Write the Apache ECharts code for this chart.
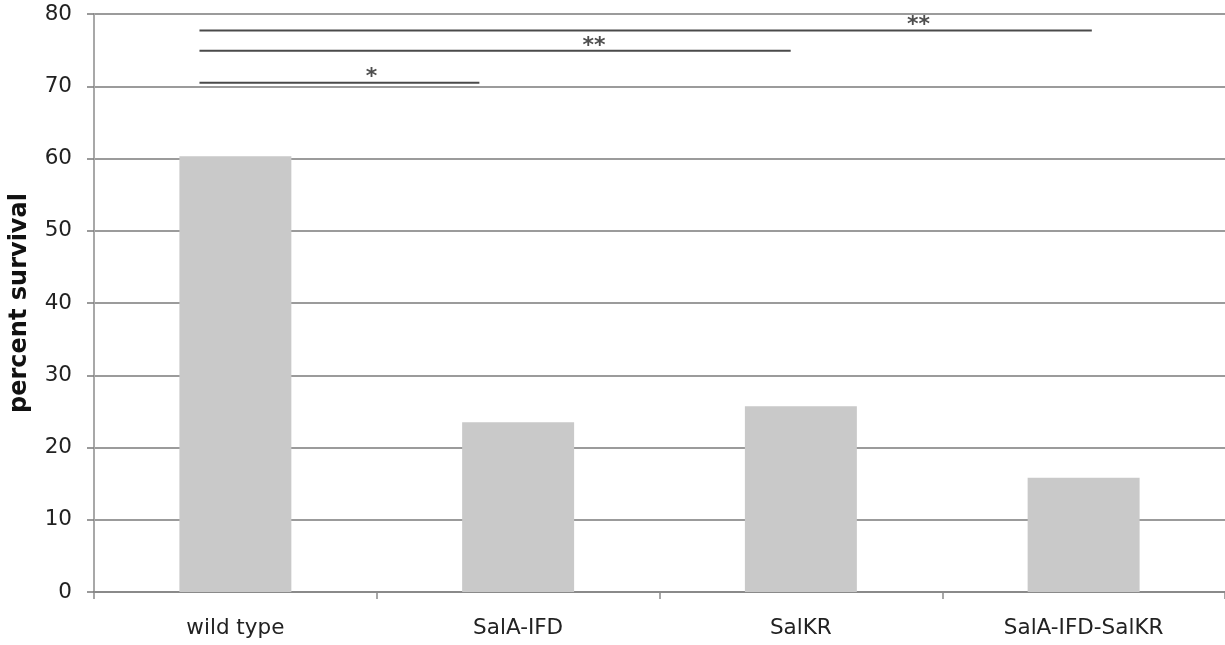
<!DOCTYPE html>
<html>
<head>
<meta charset="utf-8">
<script src="https://cdn.jsdelivr.net/npm/echarts@6/dist/echarts.min.js"></script>
<style>html,body{margin:0;padding:0;background:#fff;}#c{width:1225px;height:645px;}</style>
</head>
<body>
<div id="c"></div>
<script>
const categories = ['wild type', 'SalA-IFD', 'SalKR', 'SalA-IFD-SalKR'];
const survival = [60.3, 23.5, 25.7, 15.8];
const yTicks = [0, 10, 20, 30, 40, 50, 60, 70, 80];
// significance brackets, in category-index units on a hidden value axis
const bracketStart = [-0.127, -0.127, -0.127];
const bracketEnd = [0.863, 1.964, 3.029];
const bracketY = [70.5, 74.9, 77.7];
const starLabels = ['*', '**', '**'];
const starX = [0.481, 1.268, 2.416];

const FONT = 'DejaVu Sans';
const series = [{
  type: 'bar',
  xAxisIndex: 0,
  data: survival,
  barWidth: '39.6%',
  itemStyle: { color: '#c9c9c9' },
  silent: true,
  z: 2
}];
bracketY.forEach((y, i) => {
  series.push({
    type: 'line',
    xAxisIndex: 1,
    data: [[bracketStart[i], y], [bracketEnd[i], y]],
    symbol: 'none',
    lineStyle: { color: '#4a4a4a', width: 2 },
    silent: true,
    z: 3
  });
  series.push({
    type: 'scatter',
    xAxisIndex: 1,
    data: [[starX[i], y]],
    symbolSize: 0,
    label: {
      show: true,
      position: 'top',
      distance: -6,
      formatter: starLabels[i],
      fontFamily: FONT,
      fontWeight: 'bold',
      fontSize: 22,
      color: '#222'
    },
    silent: true,
    z: 4
  });
});

const chart = echarts.init(document.getElementById('c'), null, { renderer: 'canvas' });
chart.setOption({
  animation: false,
  backgroundColor: '#fff',
  grid: { left: 91, right: 0, top: 14, bottom: 53, containLabel: false },
  xAxis: [{
    type: 'category',
    data: categories,
    axisLine: { show: true, lineStyle: { color: '#8a8a8a', width: 2 } },
    axisTick: { show: true, length: 7, lineStyle: { color: '#8a8a8a', width: 1.5 } },
    axisLabel: { fontFamily: FONT, fontSize: 21.5, color: '#222', margin: 25 },
    splitLine: { show: false }
  }, {
    type: 'value',
    min: -0.5,
    max: 3.5,
    show: false
  }],
  yAxis: {
    type: 'value',
    min: yTicks[0],
    max: yTicks[yTicks.length - 1],
    interval: 10,
    name: 'percent survival',
    nameLocation: 'middle',
    nameGap: 62,
    nameTextStyle: { fontFamily: FONT, fontSize: 24, fontWeight: 'bold', color: '#111' },
    axisLine: { show: true, onZero: false, lineStyle: { color: '#a8a8a8', width: 2 } },
    axisTick: { show: true, length: 7, lineStyle: { color: '#7a7a7a', width: 1.5 } },
    axisLabel: { fontFamily: FONT, fontSize: 21.5, color: '#222', margin: 22 },
    splitLine: { show: true, lineStyle: { color: '#7a7a7a', width: 1.5 } }
  },
  series: series
});
</script>
</body>
</html>
